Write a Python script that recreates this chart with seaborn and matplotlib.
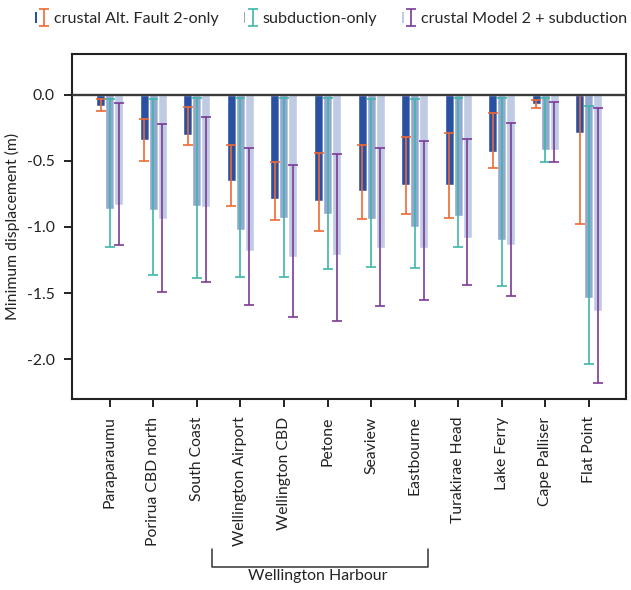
import numpy as np
import pandas as pd
import matplotlib
matplotlib.use("Agg")
import matplotlib.pyplot as plt
import seaborn as sns
from matplotlib.patches import Rectangle
from matplotlib.legend_handler import HandlerTuple
import matplotlib.transforms as mtransforms

# ---------------- data ----------------
sites = ["Paraparaumu", "Porirua CBD north", "South Coast", "Wellington Airport",
         "Wellington CBD", "Petone", "Seaview", "Eastbourne", "Turakirae Head",
         "Lake Ferry", "Cape Palliser", "Flat Point"]
series = ["crustal Alt. Fault 2-only", "subduction-only", "crustal Model 2 + subduction"]

crustal = [-0.08, -0.34, -0.30, -0.65, -0.79, -0.80, -0.73, -0.68, -0.68, -0.43, -0.07, -0.29]
crustal_hi = [-0.03, -0.18, -0.09, -0.38, -0.51, -0.44, -0.38, -0.32, -0.29, -0.14, -0.04, 0.00]
crustal_lo = [-0.12, -0.50, -0.38, -0.84, -0.95, -1.03, -0.94, -0.90, -0.93, -0.55, -0.10, -0.98]

subduction = [-0.86, -0.87, -0.84, -1.02, -0.93, -0.90, -0.94, -1.00, -0.92, -1.10, -0.42, -1.54]
subduction_hi = [-0.03, -0.03, -0.02, -0.02, -0.02, -0.02, -0.03, -0.03, -0.02, -0.02, -0.02, -0.08]
subduction_lo = [-1.15, -1.36, -1.39, -1.38, -1.38, -1.32, -1.30, -1.31, -1.15, -1.45, -0.51, -2.04]

combined = [-0.83, -0.94, -0.85, -1.18, -1.23, -1.21, -1.16, -1.16, -1.08, -1.14, -0.42, -1.64]
combined_hi = [-0.06, -0.22, -0.17, -0.40, -0.53, -0.45, -0.40, -0.35, -0.33, -0.21, -0.05, -0.10]
combined_lo = [-1.14, -1.49, -1.42, -1.59, -1.68, -1.71, -1.60, -1.55, -1.44, -1.52, -0.51, -2.18]

yticks = [0.0, -0.5, -1.0, -1.5, -2.0]
ytick_labels = ["0.0", "-0.5", "-1.0", "-1.5", "-2.0"]

bar_colors = ["#2a50a2", "#94a7d1", "#bfcae3"]
err_colors = ["#ee6a33", "#3fb6a8", "#7b3b97"]

group_label = "Wellington Harbour"
y_label = "Minimum displacement (m)"

# ---------------- build ----------------
df = pd.DataFrame({
    "site": sites * 3,
    "series": sum([[s] * len(sites) for s in series], []),
    "value": crustal + subduction + combined,
})
highs = [crustal_hi, subduction_hi, combined_hi]
lows = [crustal_lo, subduction_lo, combined_lo]

sns.set_style("ticks")
plt.rcParams["font.family"] = ["Lato", "DejaVu Sans"]
plt.rcParams["font.size"] = 11

fig = plt.figure(figsize=(6.31, 5.90), dpi=100)
renderer = fig.canvas.get_renderer()


def fit_size(text, target_px, base=10.0):
    t = fig.text(0, 0, text, fontsize=base)
    w = t.get_window_extent(renderer=renderer).width
    t.remove()
    return base * target_px / w


tick_fs = fit_size("Wellington Airport", 130)
ylab_fs = fit_size(y_label, 186)
leg_fs = fit_size(series[0], 165)
grp_fs = fit_size(group_label, 140)

W, H = 631, 590
ax = fig.add_axes([71.7 / W, 1 - 399.3 / H, (626 - 71.7) / W, (399.3 - 54.3) / H])

sns.barplot(data=df, x="site", y="value", hue="series", order=sites, hue_order=series,
            palette=bar_colors, width=0.62, saturation=1, errorbar=None, legend=False, ax=ax,
            zorder=2)

bar_conts = list(ax.containers)
err_handles = []
for i, cont in enumerate(bar_conts):
    xs = [p.get_x() + p.get_width() / 2 for p in cont.patches]
    hi = np.array(highs[i]); lo = np.array(lows[i])
    eb = ax.errorbar(xs, (hi + lo) / 2, yerr=(hi - lo) / 2, fmt="none", ecolor=err_colors[i],
                     elinewidth=1.2, capsize=3.3, capthick=1.2, zorder=4)
    err_handles.append(eb)

ax.axhline(0, color="#3a3a3a", lw=1.7, zorder=5)
ax.set_ylim(-2.305, 0.308)
ax.set_xlim(-0.872, 11.85)
ax.set_yticks(yticks)
ax.set_yticklabels(ytick_labels)
ax.set_xlabel("")
ax.set_ylabel(y_label, fontsize=ylab_fs, labelpad=5, color="#222222")
ax.tick_params(axis="x", rotation=90, length=5.8, width=1.4, pad=6.5, labelsize=tick_fs,
               colors="#222222")
ax.tick_params(axis="y", length=5.8, width=1.4, pad=6.5, labelsize=tick_fs, colors="#222222")
for sp in ax.spines.values():
    sp.set_linewidth(1.5)
    sp.set_color("#222222")
    sp.set_visible(True)

# bracket for Wellington Harbour
trans = mtransforms.blended_transform_factory(ax.transData, ax.transAxes)
x0, x1 = 2.355, 7.30
ax.plot([x0, x0, x1, x1], [-0.4348, -0.4852, -0.4852, -0.4348], transform=trans,
        color="#333333", lw=1.1, clip_on=False)
ax.text(4.78, -0.493, group_label, transform=trans, ha="center", va="top",
        fontsize=grp_fs, color="#222222")

# legend
handles = []
for i in range(3):
    patch = Rectangle((0, 0), 1, 1, facecolor=bar_colors[i], edgecolor="none")
    handles.append((patch, err_handles[i]))
fig.legend(handles, series, loc="center", bbox_to_anchor=(331 / W, 1 - 19 / H), ncol=3,
           frameon=False, handler_map={tuple: HandlerTuple(ndivide=None)},
           handlelength=0.62, handletextpad=0.55, columnspacing=1.55, fontsize=leg_fs)

fig.savefig("out.png", dpi=100)
